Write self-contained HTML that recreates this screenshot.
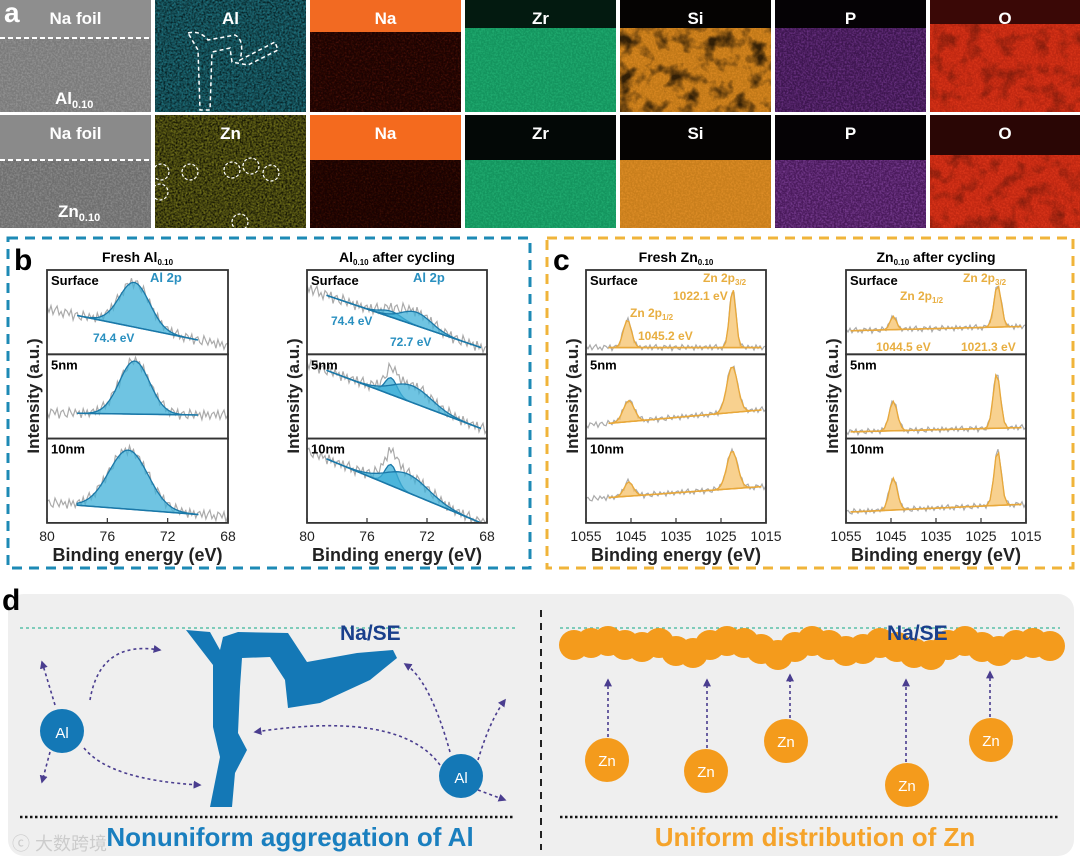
<!DOCTYPE html>
<html><head><meta charset="utf-8"><style>
html,body{margin:0;padding:0;background:#fff;}
svg{display:block;font-family:"Liberation Sans",Arial,sans-serif;}
</style></head><body>
<svg id="fig" width="1080" height="860" viewBox="0 0 1080 860">
<defs>
<filter id="spk" x="0" y="0" width="100%" height="100%"><feTurbulence type="fractalNoise" baseFrequency="0.55" numOctaves="2" seed="3" result="n"/><feColorMatrix in="n" type="matrix" values="0 0 0 0 0  0 0 0 0 0  0 0 0 0 0  2.6 0 0 0 -0.95" result="m"/><feComposite in="SourceGraphic" in2="m" operator="in"/></filter>
<filter id="spk2" x="0" y="0" width="100%" height="100%"><feTurbulence type="fractalNoise" baseFrequency="0.5" numOctaves="2" seed="11" result="n"/><feColorMatrix in="n" type="matrix" values="0 0 0 0 0  0 0 0 0 0  0 0 0 0 0  3 0 0 0 -0.9" result="m"/><feComposite in="SourceGraphic" in2="m" operator="in"/></filter>
<filter id="blot" x="0" y="0" width="100%" height="100%"><feTurbulence type="fractalNoise" baseFrequency="0.06" numOctaves="3" seed="8"/><feColorMatrix type="matrix" values="0 0 0 0 0  0 0 0 0 0  0 0 0 0 0  0 0 0 -3 1.6"/></filter>
<marker id="ah" viewBox="0 0 10 10" refX="8" refY="5" markerWidth="5" markerHeight="5" orient="auto"><path d="M0,0 L10,5 L0,10 Z" fill="#4a3d8f"/></marker>
</defs>
<g id="panel-a"></g>
<rect x="8" y="238" width="522" height="330" fill="none" stroke="#1d8ab5" stroke-width="3" stroke-dasharray="10,7"/>
<rect x="547" y="238" width="526" height="330" fill="none" stroke="#f0b43a" stroke-width="3" stroke-dasharray="10,7"/>
<text x="14" y="270" font-size="30" font-weight="bold">b</text>
<text x="553" y="270" font-size="30" font-weight="bold">c</text>
<g id="plots"></g>
<g id="panel-d">
<rect x="8" y="594" width="1066" height="262" rx="16" fill="#efefef"/>
<text x="2" y="610" font-size="30" font-weight="bold">d</text>
<line x1="541" y1="610" x2="541" y2="850" stroke="#222" stroke-width="2" stroke-dasharray="7,6"/>
<line x1="20" y1="628" x2="515" y2="628" stroke="#3cb89a" stroke-width="1.2" stroke-dasharray="3,3"/>
<line x1="560" y1="628" x2="1060" y2="628" stroke="#3cb89a" stroke-width="1.2" stroke-dasharray="3,3"/>
<line x1="20" y1="817" x2="515" y2="817" stroke="#111" stroke-width="2.5" stroke-dasharray="2.5,2.5"/>
<line x1="560" y1="817" x2="1060" y2="817" stroke="#111" stroke-width="2.5" stroke-dasharray="2.5,2.5"/>
<path fill="#1478b6" d="M186,630 L210,632 L220,650 L223,637 L238,632 L288,633 L307,662 L357,653 L393,650 L397,658 L370,680 L320,703 L288,708 L285,680 L270,657 L242,658 L240,687 L238,733 L247,750 L235,773 L232,807 L210,807 L220,757 L213,727 L213,665 Z"/>
<text x="340" y="640" font-size="21" font-weight="bold" fill="#1a3f8c">Na/SE</text>
<g id="znband" fill="#f49b1c"></g>
<text x="887" y="640" font-size="21" font-weight="bold" fill="#1a3f8c">Na/SE</text>
<g fill="none" stroke="#4a3d8f" stroke-width="1.6" stroke-dasharray="3,3" marker-end="url(#ah)">
<path d="M90,700 Q100,640 160,650"/><path d="M55,705 L42,662"/><path d="M50,752 L42,782"/><path d="M84,748 Q110,780 200,785"/>
<path d="M450,752 Q430,680 405,664"/><path d="M440,765 Q400,710 255,732"/><path d="M478,760 Q490,720 505,700"/><path d="M478,790 L505,800"/>
</g>
<g fill="none" stroke="#4a3d8f" stroke-width="1.6" stroke-dasharray="3,3" marker-end="url(#ah)">
<path d="M608,737 L608,680"/><path d="M707,748 L707,680"/><path d="M790,718 L790,675"/><path d="M906,762 L906,680"/><path d="M990,717 L990,672"/>
</g>
<g fill="#1478b6">
<circle cx="62" cy="731" r="22"/><circle cx="461" cy="776" r="22"/>
</g>
<text x="62" y="738" font-size="15" fill="#fff" text-anchor="middle">Al</text>
<text x="461" y="783" font-size="15" fill="#fff" text-anchor="middle">Al</text>
<g id="znions"></g>
<text x="290" y="846" font-size="26" font-weight="bold" fill="#1a7fbf" text-anchor="middle">Nonuniform aggregation of Al</text>
<text x="815" y="846" font-size="26" font-weight="bold" fill="#f5a32a" text-anchor="middle">Uniform distribution of Zn</text>
<text x="12" y="850" font-size="18" fill="#ccc" font-family="'Liberation Sans','Noto Sans CJK SC',sans-serif">ⓒ 大数跨境</text>
</g>
</svg>
<script>
// ---------- DATA ----------
const elements = ["Na foil","Al","Na","Zr","Si","P","O"];
const elements2 = ["Na foil","Zn","Na","Zr","Si","P","O"];
const depthLabels = ["Surface","5nm","10nm"];
const alTicks = [80,76,72,68];
const znTicks = [1055,1045,1035,1025,1015];
const alFreshBase = [[0.46,0.17],[0.30,0.28],[0.21,0.10]];
const alFreshPeaks = [[[74.2,0.53,1.0]],[[74.2,0.63,1.0]],[[74.6,0.70,1.3]]];
const alCycBase = [[0.70,0.08],[0.81,0.12],[0.76,0.00]];
const alCycPeaks = [[[74.4,0.07,0.7],[72.7,0.16,1.0]],[[74.4,0.20,0.4],[73.0,0.20,1.3]],[[74.4,0.25,0.4],[73.3,0.22,1.4]]];
const znFreshBase = [[0.08,0.08],[0.18,0.34],[0.30,0.43]];
const znFreshPeaks = [[[1045.8,0.33,0.9],[1022.4,0.70,0.7]],[[1045.5,0.25,1.2],[1022.5,0.55,1.2]],[[1045.5,0.17,1.0],[1022.5,0.45,1.2]]];
const znCycBase = [[0.28,0.33],[0.08,0.13],[0.13,0.22]];
const znCycPeaks = [[[1044.5,0.16,0.7],[1021.3,0.50,0.8]],[[1044.5,0.35,0.9],[1021.5,0.65,0.8]],[[1044.5,0.38,0.9],[1021.3,0.65,0.8]]];
const noiseVals = [0.04,-0.03,0.06,-0.05,0.02,0.07,-0.04,0.01,-0.06,0.05,0.03,-0.02,0.06,-0.07,0.02,0.04,-0.03,-0.05,0.07,0.01,-0.04,0.05,-0.01,0.03,-0.06,0.06,-0.02,0.04,-0.05,0.02];
const znIonX = [607,706,786,907,991];
const znIonY = [760,771,741,785,740];
// ---------- DRAW ----------
const NS="http://www.w3.org/2000/svg";
function mk(tag,attrs,parent){const e=document.createElementNS(NS,tag);for(const k in attrs)e.setAttribute(k,attrs[k]);parent.appendChild(e);return e;}
const pa=document.getElementById('panel-a');
const row1=[["#7a7a7a",38,"#8e8e8e","#a0a0a0",0.6],["#072226",0,"","",0],["#1e0604",32,"#f26a22","#6a1a0a",0.6],["#14945e",28,"#031a10","#2cc080",0.5],["#c07818",28,"#050302","#f0962a",0.5],["#3e1650",28,"#050205","#8a48a8",0.5],["#c02812",24,"#3a0806","#f0401e",0.5]];
const row2=[["#6e6e6e",45,"#8a8a8a","#9a9a9a",0.6],["#121204",0,"","",0],["#1a0503",45,"#f46a1e","#5a1808",0.6],["#14945e",45,"#030806","#2cc080",0.5],["#c87e1c",45,"#050302","#f09a30",0.5],["#4a1a5c",45,"#050205","#9a58b8",0.5],["#c02812",40,"#2a0605","#f24020",0.5]];
for(let r=0;r<2;r++){
 for(let i=0;i<7;i++){
  const x=i*155, y=r===0?0:115, w=i===6?150:151, h=r===0?112:113;
  const s=(r===0?row1:row2)[i];
  const g=mk('g',{},pa);
  
  
  mk('rect',{x:x,y:y,width:w,height:h,fill:s[0]},g);
  if(i===1){
    mk('rect',{x:x,y:y,width:w,height:h,fill:r===0?"#1a8090":"#80801a",filter:"url(#spk)",opacity:0.55},g);
    mk('rect',{x:x,y:y,width:w,height:h,fill:r===0?"#40b8c8":"#c0c030",filter:"url(#spk2)",opacity:0.3},g);
  } else {
    mk('rect',{x:x,y:y,width:w,height:h,fill:s[3],filter:"url(#spk)",opacity:s[4]},g);
    if(i===2) mk('rect',{x:x,y:y,width:w,height:h,fill:"#1a0503",filter:"url(#spk2)",opacity:0.6},g);
  }
  if(i===4&&r===0){mk('rect',{x:x,y:y,width:w,height:h,filter:"url(#blot)",opacity:0.75},g);}
  if(i===6){mk('rect',{x:x,y:y,width:w,height:h,filter:"url(#blot)",opacity:0.3},g);}
  if(s[1]){mk('rect',{x:x,y:y,width:w,height:s[1],fill:s[2]},g);}
  if(i===0){mk('line',{x1:x,y1:y+(r===0?38:45),x2:x+w,y2:y+(r===0?38:45),stroke:"#fff","stroke-width":2,"stroke-dasharray":"5,3"},g);}
  const t=mk('text',{x:x+w/2,y:y+24,"font-size":17,"font-weight":"bold",fill:"#fff","text-anchor":"middle"},g);
  
  
  t.textContent=(r===0?elements:elements2)[i];
 }
}
{const t1=mk('text',{x:55,y:104,"font-size":17,"font-weight":"bold",fill:"#fff"},pa);t1.innerHTML='Al<tspan font-size="11" dy="4">0.10</tspan>';
 
 const t2=mk('text',{x:58,y:217,"font-size":17,"font-weight":"bold",fill:"#fff"},pa);t2.innerHTML='Zn<tspan font-size="11" dy="4">0.10</tspan>';
 
 const ta=mk('text',{x:4,y:22,"font-size":28,"font-weight":"bold",fill:"#fff"},pa);ta.textContent='a';
 
 mk('path',{d:"M188,33 Q200,30 208,40 L235,35 Q245,40 240,60 L275,42 L278,50 L248,65 L232,62 L230,48 L212,52 L210,110 L200,110 L198,50 Z",fill:"none",stroke:"#fff","stroke-width":1.5,"stroke-dasharray":"4,3"},pa);
 [[161,172],[190,172],[232,170],[251,166],[271,173],[160,192],[240,222]].forEach(p=>mk('circle',{cx:p[0],cy:p[1],r:8,fill:"none",stroke:"#fff","stroke-width":1.2,"stroke-dasharray":"3,2"},pa));
}
const plots=document.getElementById('plots');
const gauss=(x,p)=>p.reduce((s,q)=>s+q[1]*Math.exp(-0.5*((x-q[0])/q[2])**2),0);
function panel(cfg){
 const {x0,x1,emin,emax,ticks,title,base,peaks,fitL,fitR,fill,stroke,labelColor,ann}=cfg;
 const top=270,ph=84.3;
 const sx=e=>x0+(emax-e)/(emax-emin)*(x1-x0);
 const g=mk('g',{},plots);
 
 
 for(let k=0;k<3;k++){
  const yb=top+ph*(k+1);
  const sy=v=>yb-v*ph;
  const bl=e=>base[k][0]+(base[k][1]-base[k][0])*(fitL-e)/(fitL-fitR);
  let d='';const N=noiseVals.length*3;
  for(let i=0;i<=N;i++){const e=emax-(emax-emin)*i/N;const v=bl(e)+gauss(e,peaks[k])+noiseVals[(i+k*7)%noiseVals.length]*(cfg.noise||1);d+=(i?'L':'M')+sx(e).toFixed(1)+','+sy(Math.max(0.01,Math.min(0.99,v))).toFixed(1);}
  const raw=mk('path',{d:d,fill:"none",stroke:"#aaa","stroke-width":1.2},g);
  
  
  peaks[k].forEach(p=>{
   let a='';const M=60;
   for(let i=0;i<=M;i++){const e=fitL-(fitL-fitR)*i/M;a+=(i?'L':'M')+sx(e).toFixed(1)+','+sy(bl(e)+gauss(e,[p])).toFixed(1);}
   for(let i=M;i>=0;i--){const e=fitL-(fitL-fitR)*i/M;a+='L'+sx(e).toFixed(1)+','+sy(bl(e)).toFixed(1);}
   const pk=mk('path',{d:a+'Z',fill:fill,"fill-opacity":0.75,stroke:stroke,"stroke-width":1.3},g);
   
   
  });
  const bline=mk('line',{x1:sx(fitL),y1:sy(bl(fitL)),x2:sx(fitR),y2:sy(bl(fitR)),stroke:stroke,"stroke-width":1.5},g);
  
  
  const fr=mk('rect',{x:x0,y:yb-ph,width:x1-x0,height:ph,fill:"none",stroke:"#333","stroke-width":1.8},g);
  
  
  const dl=mk('text',{x:x0+4,y:yb-ph+15,"font-size":13,"font-weight":"bold"},g);
  
  
  dl.textContent=depthLabels[k];
 }
 ticks.forEach(t=>{
  const tx=sx(t);
  mk('line',{x1:tx,y1:523,x2:tx,y2:518,stroke:"#333","stroke-width":1.2},g);
  const tl=mk('text',{x:tx,y:541,"font-size":14,"text-anchor":"middle",fill:"#222"},g);
  
  
  tl.textContent=t;
 });
 const xt=mk('text',{x:(x0+x1)/2,y:561,"font-size":18,"font-weight":"bold","text-anchor":"middle",fill:"#222"},g);
 
 
 xt.textContent='Binding energy (eV)';
 const yt=mk('text',{x:0,y:0,"font-size":17,"font-weight":"bold","text-anchor":"middle",fill:"#222",transform:`translate(${x0-8},396) rotate(-90)`},g);
 
 
 yt.textContent='Intensity (a.u.)';
 const tt=mk('text',{x:(x0+x1)/2,y:262,"font-size":14,"font-weight":"bold","text-anchor":"middle"},g);
 
 
 tt.innerHTML=title;
 ann.forEach(a=>{const at=mk('text',{x:a[0],y:a[1],"font-size":a[3]||12,"font-weight":"bold",fill:labelColor},g);
  
  
  at.innerHTML=a[2];});
}
const sub=s=>`<tspan font-size="8" dy="3">${s}</tspan><tspan dy="-3"> </tspan>`;
panel({x0:47,x1:228,emin:68,emax:80,ticks:alTicks,title:'Fresh Al'+sub('0.10'),base:alFreshBase,peaks:alFreshPeaks,fitL:78,fitR:70,fill:"#3fb0d8",stroke:"#1a78a8",labelColor:"#2a90c0",noise:0.9,
 ann:[[150,282,'Al 2p',13],[93,342,'74.4 eV']]});
panel({x0:307,x1:487,emin:68,emax:80,ticks:alTicks,title:'Al'+sub('0.10')+'after cycling',base:alCycBase,peaks:alCycPeaks,fitL:78.7,fitR:68.4,fill:"#3fb0d8",stroke:"#1a78a8",labelColor:"#2a90c0",noise:1.0,
 ann:[[413,282,'Al 2p',13],[331,325,'74.4 eV'],[390,346,'72.7 eV']]});
panel({x0:586,x1:766,emin:1015,emax:1055,ticks:znTicks,title:'Fresh Zn'+sub('0.10'),base:znFreshBase,peaks:znFreshPeaks,fitL:1050,fitR:1016,fill:"#f5c26a",stroke:"#e8a83a",labelColor:"#e8ae40",noise:0.5,
 ann:[[703,282,'Zn 2p<tspan font-size="8" dy="3">3/2</tspan>'],[673,300,'1022.1 eV'],[630,317,'Zn 2p<tspan font-size="8" dy="3">1/2</tspan>'],[638,340,'1045.2 eV']]});
panel({x0:846,x1:1026,emin:1015,emax:1055,ticks:znTicks,title:'Zn'+sub('0.10')+'after cycling',base:znCycBase,peaks:znCycPeaks,fitL:1054,fitR:1016,fill:"#f5c26a",stroke:"#e8a83a",labelColor:"#e8ae40",noise:0.5,
 ann:[[963,282,'Zn 2p<tspan font-size="8" dy="3">3/2</tspan>'],[900,300,'Zn 2p<tspan font-size="8" dy="3">1/2</tspan>'],[876,351,'1044.5 eV'],[961,351,'1021.3 eV']]});
const zb=document.getElementById('znband');
const bandY=[645,643,641,645,647,643,651,653,645,641,643,649,655,647,641,645,651,649,643,647,653,655,645,641,647,651,645,643,646];
bandY.forEach((yy,i)=>{const c=mk('circle',{cx:574+i*17,cy:yy,r:15},zb);});
const zi=document.getElementById('znions');
znIonX.forEach((x,i)=>{
 const c=mk('circle',{cx:x,cy:znIonY[i],r:22,fill:"#f49b1c"},zi);
 
 
 const t=mk('text',{x:x,y:znIonY[i]+6,"font-size":15,fill:"#fff","text-anchor":"middle"},zi);
 
 
 t.textContent='Zn';
});
</script>
</body></html>
